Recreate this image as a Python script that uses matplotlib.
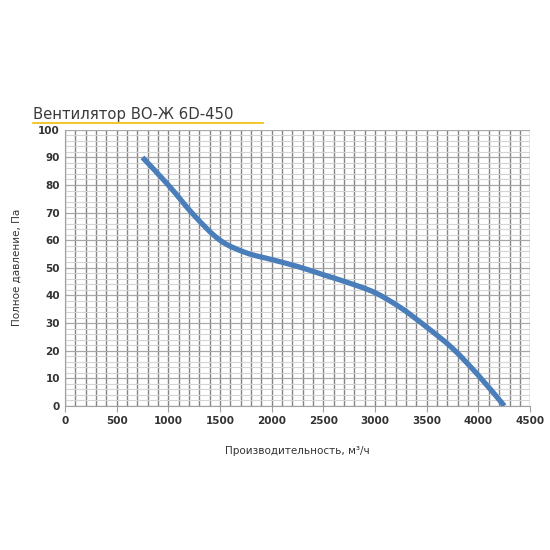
import matplotlib
matplotlib.use("Agg")
import matplotlib.pyplot as plt
from matplotlib.lines import Line2D
from matplotlib.path import Path
from matplotlib.patches import PathPatch
from matplotlib.ticker import MultipleLocator

# curve
flow = [750, 1000, 1250, 1500, 1750, 2000, 2250, 2500, 2750, 3000, 3250, 3500, 3750, 4000, 4250]
pressure = [90, 80, 69, 60, 55.5, 53, 50.5, 47.5, 44.5, 41, 35.5, 28.5, 20.8, 11, 0]

title = "Вентилятор ВО-Ж 6D-450"
xlabel = "Производительность, м³/ч"
ylabel = "Полное давление, Па"


def smooth_path(xs, ys):
    # Excel-style smoothed line: cubic bezier segments through the points
    pts = list(zip(xs, ys))
    verts = [pts[0]]
    codes = [Path.MOVETO]
    n = len(pts)
    for i in range(n - 1):
        p0 = pts[i - 1] if i > 0 else pts[i]
        p1 = pts[i]
        p2 = pts[i + 1]
        p3 = pts[i + 2] if i + 2 < n else pts[i + 1]
        c1 = (p1[0] + (p2[0] - p0[0]) / 6, p1[1] + (p2[1] - p0[1]) / 6)
        c2 = (p2[0] - (p3[0] - p1[0]) / 6, p2[1] - (p3[1] - p1[1]) / 6)
        verts += [c1, c2, p2]
        codes += [Path.CURVE4] * 3
    return Path(verts, codes)


fig = plt.figure(figsize=(5.5, 5.5), dpi=100)
ax = fig.add_axes([0.118, 0.262, 0.846, 0.502])

ax.set_xlim(0, 4500)
ax.set_ylim(0, 100)
ax.xaxis.set_major_locator(MultipleLocator(500))
ax.xaxis.set_minor_locator(MultipleLocator(100))
ax.yaxis.set_major_locator(MultipleLocator(10))
ax.yaxis.set_minor_locator(MultipleLocator(2))

ax.grid(which="minor", axis="x", color="#858585", linewidth=1.0)
ax.grid(which="major", axis="x", color="#858585", linewidth=1.0)
ax.grid(which="minor", axis="y", color="#d4d4d4", linewidth=0.8)
ax.grid(which="major", axis="y", color="#a8a8a8", linewidth=0.9)
ax.set_axisbelow(True)

ax.add_patch(PathPatch(smooth_path(flow, pressure), facecolor="none",
                       edgecolor="#4a7ebb", linewidth=3.8, capstyle="butt", zorder=3))

for s in ["top", "right"]:
    ax.spines[s].set_visible(False)
ax.spines["left"].set_color("#a0a0a0")
ax.spines["bottom"].set_color("#a0a0a0")
ax.tick_params(which="both", length=0)
ax.tick_params(axis="x", which="major", length=4, color="#a0a0a0", direction="out")
for lab in ax.get_xticklabels() + ax.get_yticklabels():
    lab.set_fontsize(7.5)
    lab.set_fontweight("bold")
    lab.set_color("#333333")

ax.set_xlabel(xlabel, fontsize=7.5, color="#333333", labelpad=14)
ax.set_ylabel(ylabel, fontsize=7.5, color="#333333", labelpad=12)

fig.text(33 / 550, 1 - 119 / 550, title, fontsize=10.7, color="#3a3a3a",
         ha="left", va="baseline")
fig.add_artist(Line2D([33 / 550, 263 / 550], [1 - 123 / 550, 1 - 123 / 550],
                      color="#f2c21b", linewidth=1.3))

fig.savefig("out.png", dpi=100, facecolor="white")
